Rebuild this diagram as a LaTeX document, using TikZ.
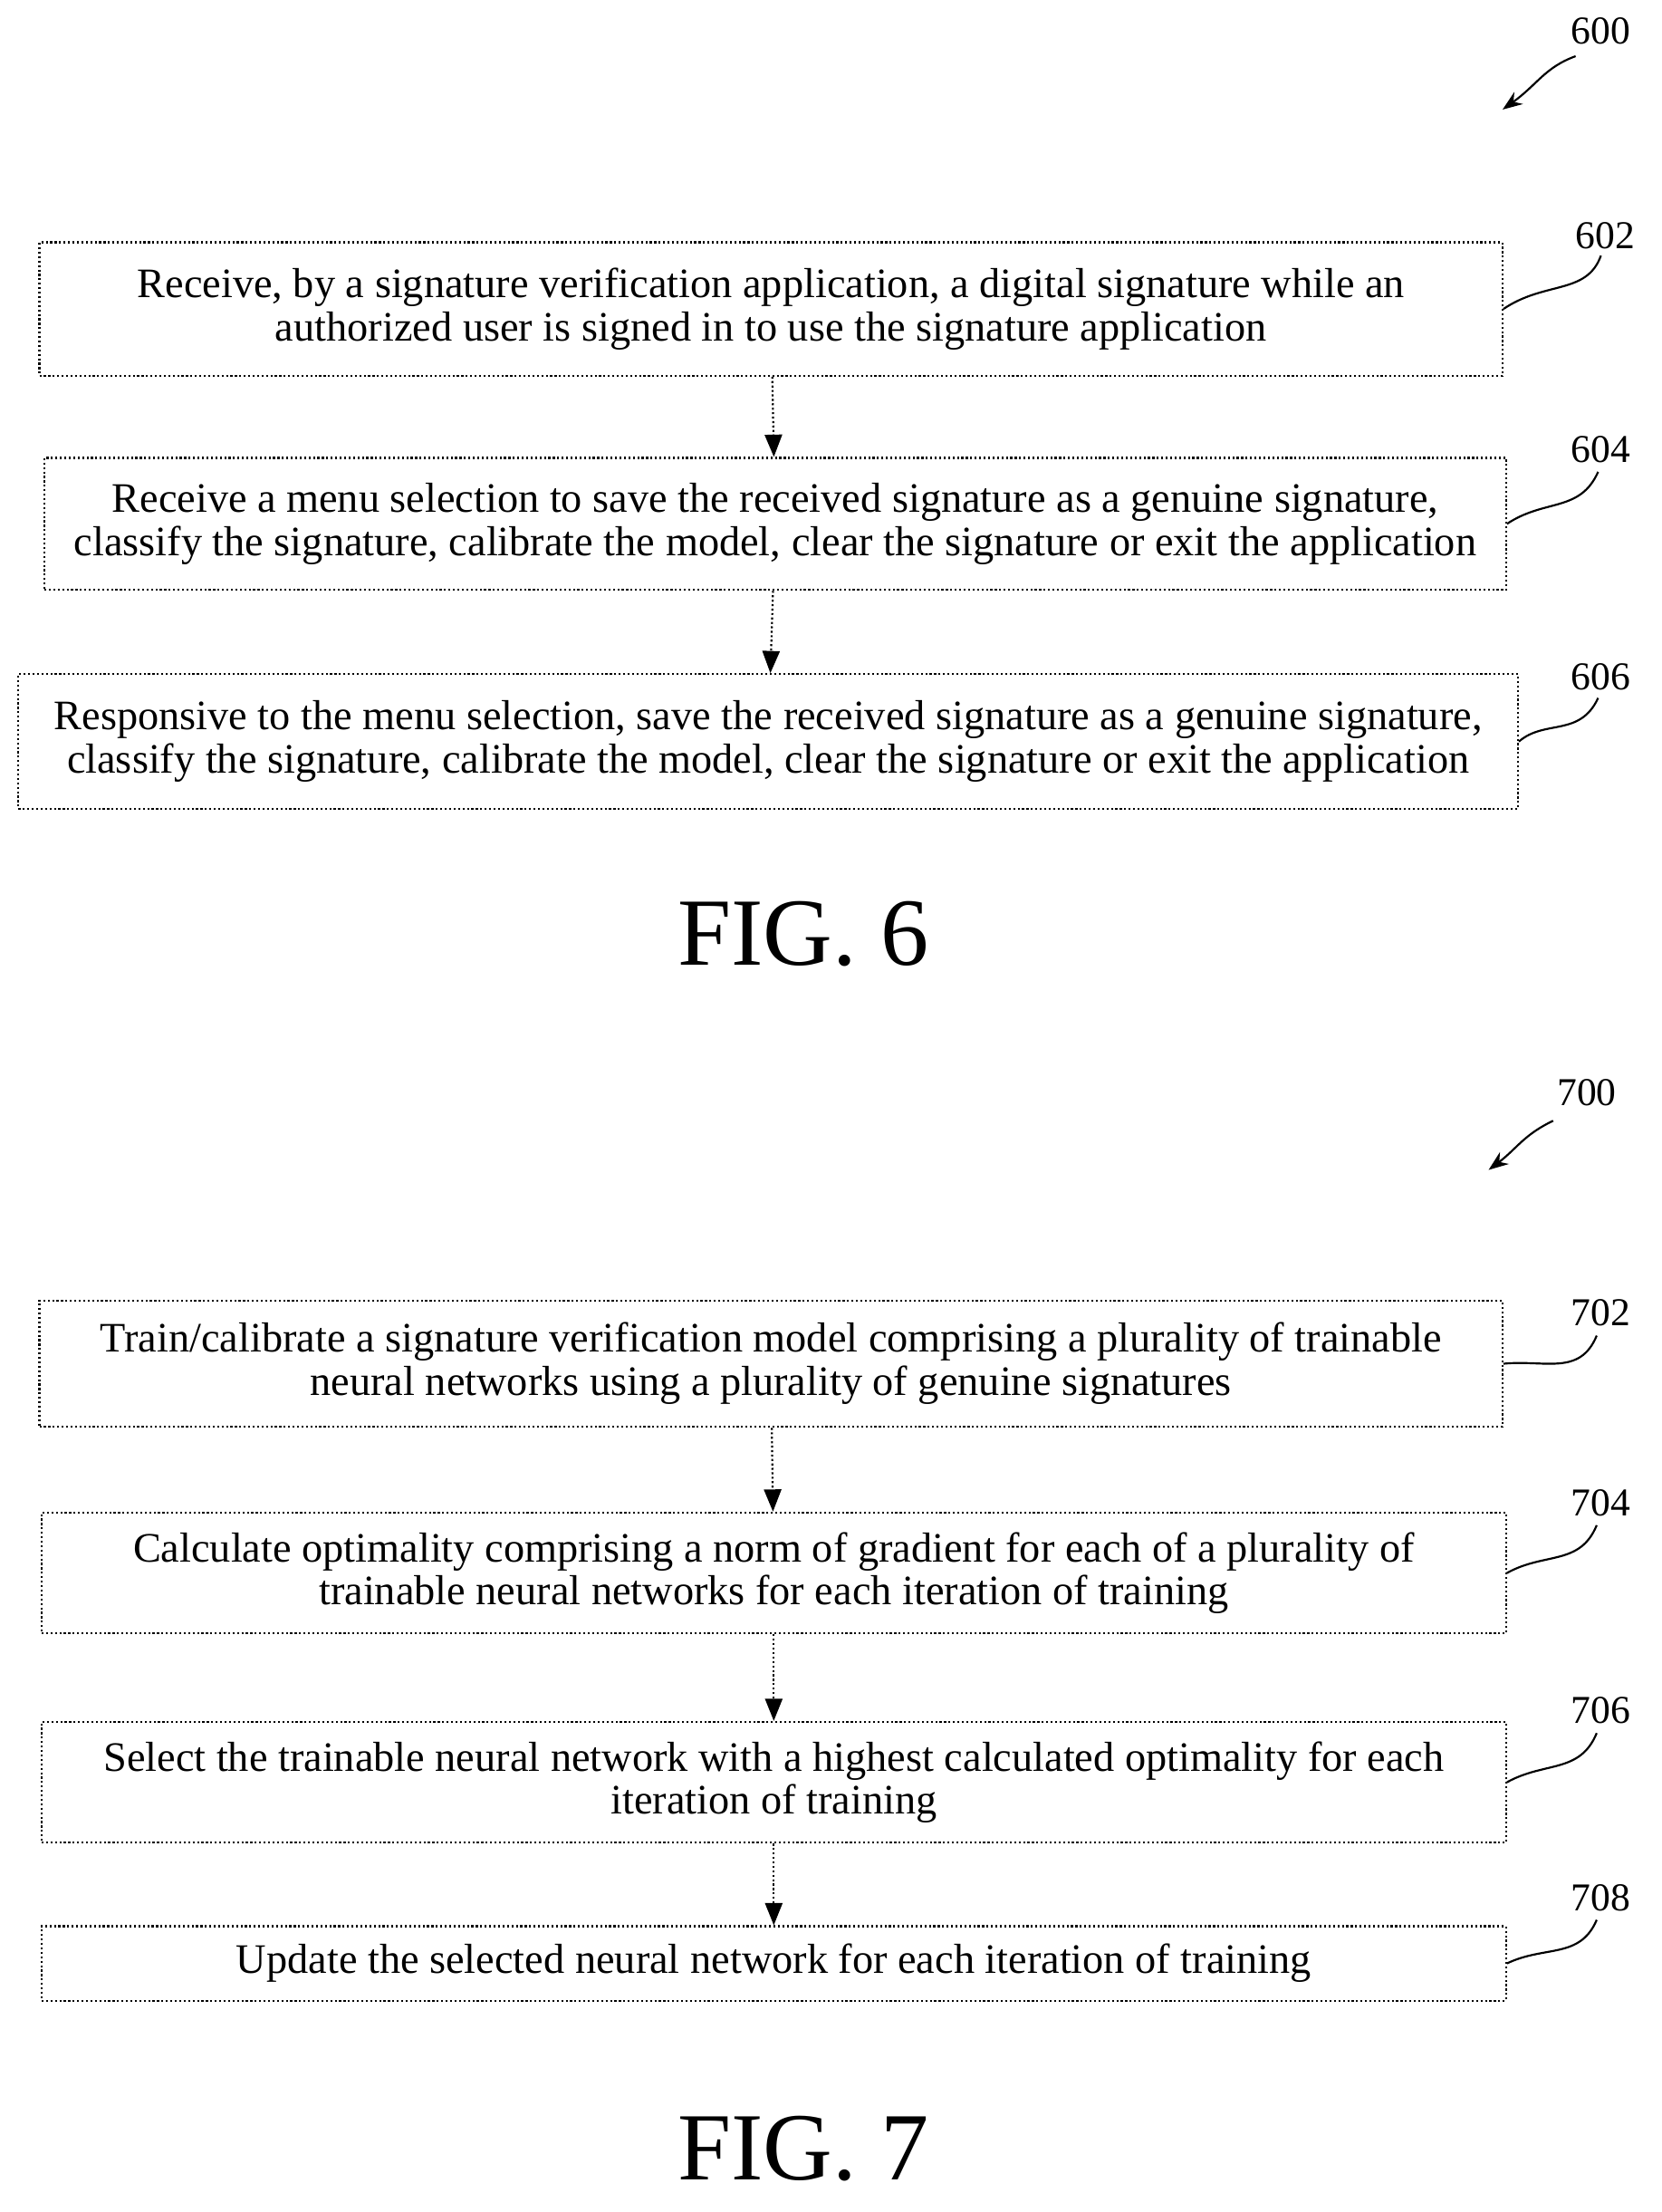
\documentclass[tikz,border=0pt]{standalone}
\usepackage{fontspec}
\setmainfont{Liberation Serif}
\usetikzlibrary{arrows.meta}
\begin{document}
\begin{tikzpicture}[x=0.02cm,y=-0.02cm,
  box/.style={draw, thick, densely dotted, align=center, font=\fontsize{17}{17.5}\selectfont, inner sep=0pt},
  flow/.style={thick, densely dotted, -{Triangle[width=7pt,length=9pt]}},
  tag/.style={font=\fontsize{16}{18}\selectfont},
  lead/.style={thick}]
\useasboundingbox (0,0) rectangle (1183,1575);
% FIG. 6
\node[box, minimum width=20.84cm, minimum height=1.9cm] (S602) at (549,220) {Receive, by a signature verification application, a digital signature while an\\authorized user is signed in to use the signature application};
\node[box, minimum width=20.82cm, minimum height=1.88cm] (S604) at (552,373) {Receive a menu selection to save the received signature as a genuine signature,\\classify the signature, calibrate the model, clear the signature or exit the application};
\node[box, minimum width=21.36cm, minimum height=1.92cm] (S606) at (547,528) {Responsive to the menu selection, save the received signature as a genuine signature,\\classify the signature, calibrate the model, clear the signature or exit the application};
\draw[flow] (S602) -- (S604);
\draw[flow] (S604) -- (S606);
\node[font=\fontsize{39}{42}\selectfont] (Fig6) at (572,665) {FIG. 6};
\node[tag] (L600) at (1140,22) {600};
\draw[lead, -{Stealth[length=8pt]}] (1122,40) .. controls (1100,48) and (1095,60) .. (1070,78);
\node[tag] (L602) at (1143,168) {602};
\draw[lead] (1140,182) .. controls (1130,210) and (1100,200) .. (S602.east);
\node[tag] (L604) at (1140,320) {604};
\draw[lead] (1138,336) .. controls (1125,365) and (1100,355) .. (S604.east);
\node[tag] (L606) at (1140,482) {606};
\draw[lead] (1138,497) .. controls (1125,525) and (1100,512) .. (S606.east);
% FIG. 7
\node[box, minimum width=20.84cm, minimum height=1.8cm] (S702) at (549,971) {Train/calibrate a signature verification model comprising a plurality of trainable\\neural networks using a plurality of genuine signatures};
\node[box, minimum width=20.86cm, minimum height=1.72cm] (S704) at (551,1120) {Calculate optimality comprising a norm of gradient for each of a plurality of\\trainable neural networks for each iteration of training};
\node[box, minimum width=20.86cm, minimum height=1.72cm] (S706) at (551,1269) {Select the trainable neural network with a highest calculated optimality for each\\iteration of training};
\node[box, minimum width=20.86cm, minimum height=1.06cm] (S708) at (551,1398) {Update the selected neural network for each iteration of training};
\draw[flow] (S702) -- (S704);
\draw[flow] (S704) -- (S706);
\draw[flow] (S706) -- (S708);
\node[font=\fontsize{39}{42}\selectfont] (Fig7) at (572,1530) {FIG. 7};
\node[tag] (L700) at (1130,778) {700};
\draw[lead, -{Stealth[length=8pt]}] (1106,798) .. controls (1085,808) and (1080,818) .. (1060,833);
\node[tag] (L702) at (1140,935) {702};
\draw[lead] (1137,951) .. controls (1125,980) and (1100,968) .. (S702.east);
\node[tag] (L704) at (1140,1070) {704};
\draw[lead] (1137,1086) .. controls (1125,1115) and (1100,1105) .. (S704.east);
\node[tag] (L706) at (1140,1218) {706};
\draw[lead] (1137,1234) .. controls (1125,1263) and (1100,1254) .. (S706.east);
\node[tag] (L708) at (1140,1351) {708};
\draw[lead] (1137,1367) .. controls (1125,1395) and (1100,1385) .. (S708.east);
\end{tikzpicture}
\end{document}
